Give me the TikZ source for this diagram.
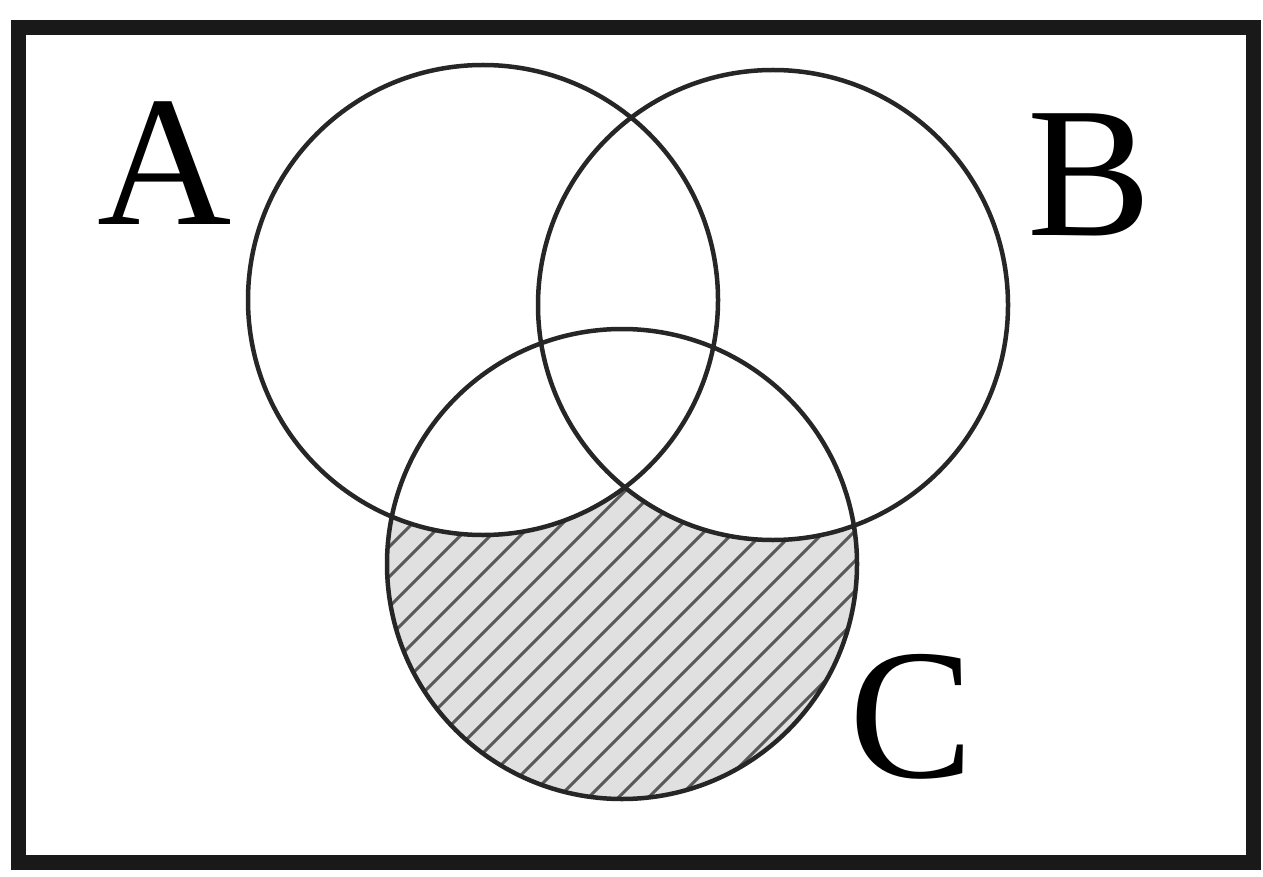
\documentclass[tikz,border=0pt]{standalone}
\usepackage{fontspec}
\setmainfont{Liberation Serif}
\begin{document}
\begin{tikzpicture}[x=1pt,y=-1pt,
  circ/.style={draw=black!85, line width=4.5pt},
  lab/.style={inner sep=0pt, font=\fontsize{186}{186}\selectfont}]
\useasboundingbox (0,0) rectangle (1263,877);
\fill[white] (0,0) rectangle (1263,877);
% hatched region C minus (A or B)
\begin{scope}
  \clip (622,564) circle (235);
  \fill[black!12] (380,320) rectangle (870,810);
  \foreach \k in {-700,-670,...,700}{
    \draw[black!65, line width=3pt] (622+\k-300,564+300) -- (622+\k+300,564-300);
  }
\end{scope}
\fill[white] (483,300) circle (235);
\fill[white] (773,305) circle (235);
% circles
\node[circ, circle, minimum size=470pt, inner sep=0pt] (A) at (483,300) {};
\node[circ, circle, minimum size=470pt, inner sep=0pt] (B) at (773,305) {};
\node[circ, circle, minimum size=470pt, inner sep=0pt] (C) at (622,564) {};
% frame
\node[draw=black!90, line width=15pt, minimum width=1235pt, minimum height=834pt, inner sep=0pt] (frame) at (635.5,445) {};
% labels
\node[lab] (la) at (165,163) {A};
\node[lab] (lb) at (1090,175) {B};
\node[lab] (lc) at (912,717) {C};
\end{tikzpicture}
\end{document}
